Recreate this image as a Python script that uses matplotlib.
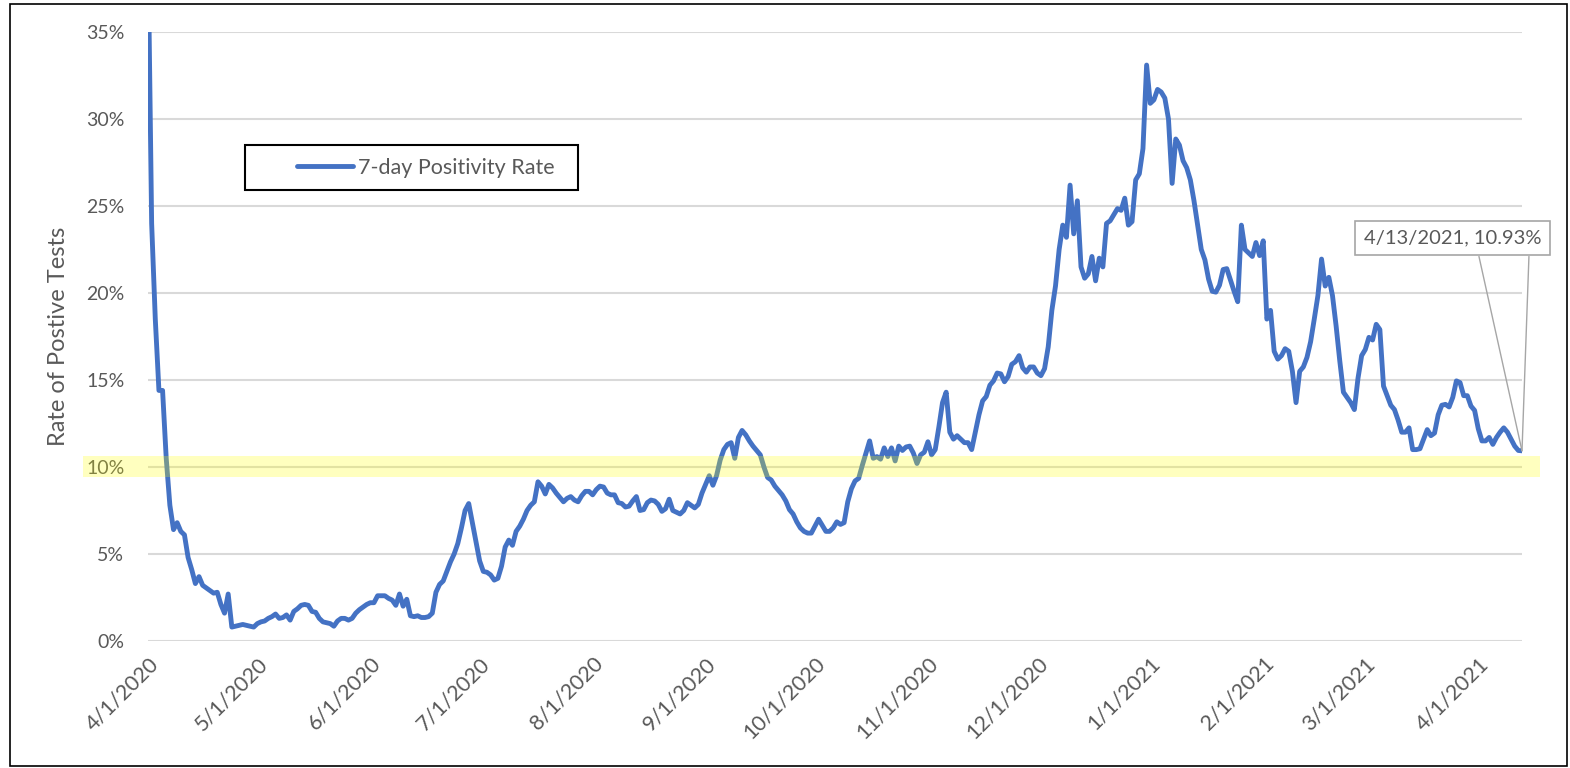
import pandas as pd
import matplotlib
matplotlib.use("Agg")
import matplotlib.pyplot as plt
from matplotlib.patches import Rectangle
from matplotlib import transforms

# daily 7-day positivity rate (%), 4/1/2020 .. 4/13/2021
dates = pd.date_range("2020-04-01", "2021-04-13", freq="D")
positivity = [
    40.0,
    24.0, 18.5, 14.4, 14.4, 10.5, 7.8, 6.4, 6.8, 6.3, 6.1,
    4.8, 4.1, 3.3, 3.7, 3.2, 3.05, 2.9, 2.75, 2.8, 2.1,
    1.6, 2.7, 0.8, 0.85, 0.9, 0.95, 0.9, 0.85, 0.8, 1.0,
    1.1, 1.15, 1.3, 1.4, 1.55, 1.3, 1.35, 1.5, 1.2, 1.7,
    1.85, 2.05, 2.1, 2.05, 1.7, 1.65, 1.3, 1.1, 1.05, 1.0,
    0.85, 1.15, 1.3, 1.3, 1.2, 1.3, 1.6, 1.8, 1.95, 2.1,
    2.2, 2.2, 2.6, 2.6, 2.6, 2.45, 2.35, 2.05, 2.7, 2.0,
    2.4, 1.45, 1.4, 1.45, 1.35, 1.35, 1.4, 1.6, 2.8, 3.25,
    3.45, 4.0, 4.55, 5.0, 5.6, 6.5, 7.5, 7.9, 6.8, 5.7,
    4.6, 4.0, 3.95, 3.8, 3.5, 3.6, 4.3, 5.4, 5.8, 5.5,
    6.3, 6.6, 7.0, 7.5, 7.8, 8.0, 9.15, 8.9, 8.45, 9.0,
    8.8, 8.5, 8.25, 8.0, 8.2, 8.3, 8.1, 8.0, 8.35, 8.6,
    8.6, 8.4, 8.7, 8.9, 8.85, 8.5, 8.4, 8.4, 7.95, 7.9,
    7.7, 7.75, 8.05, 8.3, 7.5, 7.55, 7.95, 8.1, 8.05, 7.85,
    7.45, 7.6, 8.15, 7.5, 7.4, 7.3, 7.5, 7.95, 7.8, 7.65,
    7.85, 8.5, 9.0, 9.5, 8.95, 9.5, 10.4, 11.0, 11.3, 11.4,
    10.5, 11.7, 12.1, 11.85, 11.5, 11.2, 10.95, 10.7, 10.0, 9.4,
    9.25, 8.9, 8.65, 8.4, 8.05, 7.55, 7.3, 6.85, 6.5, 6.3,
    6.2, 6.2, 6.6, 7.0, 6.65, 6.3, 6.3, 6.5, 6.85, 6.7,
    6.8, 8.0, 8.75, 9.2, 9.35, 10.1, 10.8, 11.5, 10.5, 10.6,
    10.45, 11.1, 10.6, 11.1, 10.35, 11.2, 10.95, 11.15, 11.2, 10.8,
    10.2, 10.7, 10.85, 11.45, 10.7, 11.0, 12.3, 13.7, 14.3, 12.0,
    11.6, 11.8, 11.6, 11.4, 11.4, 11.0, 12.0, 13.0, 13.8, 14.05,
    14.7, 14.95, 15.4, 15.35, 14.9, 15.2, 15.9, 16.05, 16.4, 15.7,
    15.45, 15.75, 15.75, 15.4, 15.25, 15.65, 16.9, 19.0, 20.4, 22.5,
    23.9, 23.2, 26.2, 23.4, 25.3, 21.5, 20.85, 21.1, 22.1, 20.7,
    22.0, 21.5, 24.0, 24.15, 24.5, 24.85, 24.75, 25.45, 23.9, 24.1,
    26.5, 26.85, 28.3, 33.1, 30.9, 31.1, 31.7, 31.55, 31.2, 30.0,
    26.3, 28.85, 28.5, 27.6, 27.2, 26.5, 25.3, 23.9, 22.5, 21.9,
    20.8, 20.1, 20.05, 20.45, 21.35, 21.4, 20.75, 20.1, 19.5, 23.9,
    22.5, 22.3, 22.1, 22.9, 22.15, 23.0, 18.5, 19.0, 16.65, 16.2,
    16.4, 16.8, 16.65, 15.5, 13.7, 15.5, 15.75, 16.3, 17.2, 18.5,
    19.85, 21.95, 20.4, 20.9, 19.85, 18.1, 16.1, 14.3, 14.0, 13.7,
    13.3, 15.1, 16.4, 16.75, 17.45, 17.3, 18.2, 17.9, 14.65, 14.1,
    13.55, 13.3, 12.7, 12.0, 12.0, 12.25, 11.0, 11.0, 11.05, 11.6,
    12.15, 11.8, 11.95, 13.0, 13.55, 13.6, 13.45, 14.0, 14.95, 14.85,
    14.1, 14.1, 13.5, 13.25, 12.2, 11.5, 11.5, 11.7, 11.3, 11.7,
    12.0, 12.25, 12.0, 11.6, 11.2, 10.95, 10.93,
]
tick_dates = pd.date_range("2020-04-01", "2021-04-01", freq="MS")
tick_labels = [f"{d.month}/{d.day}/{d.year}" for d in tick_dates]
y_ticks = [0, 5, 10, 15, 20, 25, 30, 35]
threshold = 10

W, H = 1570, 768
plt.rcParams["font.family"] = ["Lato", "DejaVu Sans"]
gray = "#595959"
blue = "#4472C4"

fig = plt.figure(figsize=(W / 100, H / 100), dpi=100)
ax = fig.add_axes([148 / W, 1 - 641 / H, (1522 - 148) / W, (641 - 32) / H])

ax.plot(dates, positivity, color=blue, lw=3.5, solid_joinstyle="round",
        solid_capstyle="round", label="7-day Positivity Rate", zorder=3)

ax.set_xlim(dates[0], dates[-1])
ax.set_ylim(0, 35)
ax.set_yticks(y_ticks)
ax.set_yticklabels([f"{v}%" for v in y_ticks])
ax.set_xticks(tick_dates)
ax.set_xticklabels(tick_labels, rotation=45, ha="right", rotation_mode="anchor")
ax.tick_params(axis="both", length=0, colors=gray)
ax.tick_params(axis="y", pad=17, labelsize=14)
ax.tick_params(axis="x", pad=9, labelsize=15.5)
ax.yaxis.grid(True, color="#d9d9d9", lw=1.5)
ax.set_axisbelow(True)
for s in ax.spines.values():
    s.set_visible(False)
ax.set_ylabel("Rate of Postive Tests", fontsize=17, color=gray, labelpad=12)

# yellow highlight round the 10% threshold, spilling past the plot area
tr = transforms.blended_transform_factory(fig.transFigure, ax.transData)
ax.add_patch(Rectangle((83 / W, threshold - 0.55), (1540 - 83) / W, 1.2,
                       transform=tr, facecolor="yellow", alpha=0.25,
                       edgecolor="none", clip_on=False, zorder=10))

# legend with a plain black box
leg = ax.legend(loc="center left", bbox_to_anchor=(278 / W, 1 - 168 / H),
                bbox_transform=fig.transFigure, frameon=False, fontsize=15.5,
                handlelength=2.6, handletextpad=0.2, labelcolor=gray)
fig.patches.append(Rectangle((245 / W, 1 - 190 / H), 333 / W, 45 / H,
                             transform=fig.transFigure, fill=False,
                             edgecolor="black", lw=1.5))

# data callout on the last point
last_d, last_v = dates[-1], positivity[-1]
label = f"{last_d.month}/{last_d.day}/{last_d.year}, {last_v:.2f}%"
for dx in (-31, 5):
    ax.annotate("", xy=(last_d, last_v), xytext=(dx, 140),
                textcoords="offset points", annotation_clip=False,
                arrowprops=dict(arrowstyle="-", color="#a6a6a6", lw=1,
                                shrinkA=0, shrinkB=0))
ax.annotate(label, xy=(last_d, last_v), xytext=(-50, 153),
            textcoords="offset points", ha="center", va="center",
            fontsize=14.5, color=gray, annotation_clip=False,
            bbox=dict(boxstyle="square,pad=0.42", fc="white", ec="#a6a6a6", lw=1.2))

# outer chart border
fig.patches.append(Rectangle((10 / W, 2 / H), (1567 - 10) / W, (766 - 4) / H,
                             transform=fig.transFigure, fill=False,
                             edgecolor="black", lw=1.2))

fig.savefig("out.png", dpi=100)
